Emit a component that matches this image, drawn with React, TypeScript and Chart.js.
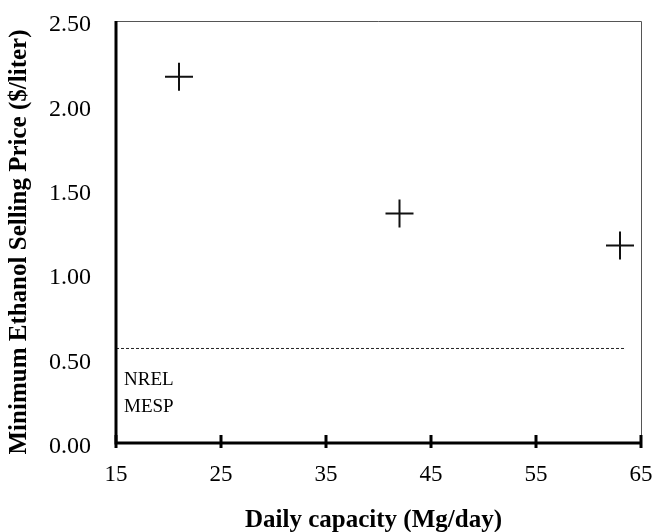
import React, { useEffect, useRef } from "react";
import { Chart, registerables } from "chart.js";

Chart.register(...registerables);

const capacities = [21, 42, 63];
const mespValues = [2.17, 1.36, 1.17];
const nrelX = [15, 63.5];
const nrelY = [0.56, 0.56];
const xTicks = [15, 25, 35, 45, 55, 65];
const yTicks = [0, 0.5, 1.0, 1.5, 2.0, 2.5];
const nrelLabel = ["NREL", "MESP"];
const xTitle = "Daily capacity (Mg/day)";
const yTitle = "Minimum Ethanol Selling Price ($/liter)";

const FONT = "'Liberation Serif', 'Times New Roman', serif";

const framePlugin = {
  id: "frame",
  afterDatasetsDraw(chart: any) {
    const { ctx, chartArea, scales } = chart;
    const { left, right, top, bottom } = chartArea;
    ctx.save();
    ctx.strokeStyle = "#555";
    ctx.lineWidth = 1;
    ctx.beginPath();
    ctx.moveTo(left, top + 0.5);
    ctx.lineTo(right + 0.5, top + 0.5);
    ctx.lineTo(right + 0.5, bottom);
    ctx.stroke();
    ctx.strokeStyle = "#000";
    ctx.lineWidth = 3;
    ctx.beginPath();
    ctx.moveTo(left, top);
    ctx.lineTo(left, bottom);
    ctx.lineTo(right + 1, bottom);
    ctx.stroke();
    for (const t of xTicks) {
      const px = Math.round(scales.x.getPixelForValue(t));
      ctx.beginPath();
      ctx.moveTo(px, bottom - 8);
      ctx.lineTo(px, bottom + 5);
      ctx.stroke();
    }
    ctx.fillStyle = "#000";
    ctx.font = `19px ${FONT}`;
    ctx.textAlign = "left";
    ctx.textBaseline = "middle";
    ctx.fillText(nrelLabel[0], left + 8, 380);
    ctx.fillText(nrelLabel[1], left + 8, 407);
    ctx.font = `bold 25px ${FONT}`;
    ctx.textAlign = "center";
    ctx.fillText(xTitle, (left + right) / 2 - 5, 521);
    ctx.save();
    ctx.translate(20, (top + bottom) / 2 + 10);
    ctx.rotate(-Math.PI / 2);
    ctx.fillText(yTitle, 0, 0);
    ctx.restore();
    ctx.restore();
  },
};

export default function App() {
  const ref = useRef<HTMLCanvasElement>(null);
  useEffect(() => {
    const canvas = ref.current!;
    const chart = new Chart(canvas, {
      type: "scatter",
      data: {
        datasets: [
          {
            label: "MESP",
            data: capacities.map((x, i) => ({ x, y: mespValues[i] })),
            pointStyle: "cross",
            pointRadius: 14,
            pointBorderWidth: 2,
            borderColor: "#111",
            backgroundColor: "#111",
            showLine: false,
          },
          {
            label: "NREL MESP",
            data: nrelX.map((x, i) => ({ x, y: nrelY[i] })),
            showLine: true,
            borderColor: "#222",
            borderWidth: 1,
            borderDash: [3, 2],
            pointRadius: 0,
          },
        ],
      },
      options: {
        animation: false,
        responsive: false,
        maintainAspectRatio: false,
        layout: { autoPadding: false, padding: { top: 21, right: 13, left: 0, bottom: 0 } },
        plugins: { legend: { display: false }, tooltip: { enabled: false } },
        scales: {
          x: {
            type: "linear",
            min: 15,
            max: 65,
            afterBuildTicks: (s: any) => {
              s.ticks = xTicks.map((v) => ({ value: v }));
            },
            afterFit: (s: any) => {
              s.height = 89;
              s.paddingLeft = 0;
              s.paddingRight = 0;
            },
            grid: { display: false },
            border: { display: false },
            ticks: {
              color: "#000",
              font: { family: FONT, size: 23 },
              padding: 10,
              maxRotation: 0,
            },
            title: { display: false },
          },
          y: {
            type: "linear",
            min: 0,
            max: 2.5,
            afterBuildTicks: (s: any) => {
              s.ticks = yTicks.map((v) => ({ value: v }));
            },
            afterFit: (s: any) => {
              s.width = 116;
              s.paddingTop = 0;
              s.paddingBottom = 0;
            },
            grid: { display: false },
            border: { display: false },
            ticks: {
              color: "#000",
              font: { family: FONT, size: 24 },
              padding: 17,
              labelOffset: 4,
              callback: (v: any) => Number(v).toFixed(2),
            },
            title: { display: false },
          },
        },
      },
      plugins: [framePlugin],
    });
    return () => chart.destroy();
  }, []);
  return (
    <div style={{ position: "fixed", left: 0, top: 0, width: 654, height: 532, background: "#fff" }}>
      <canvas ref={ref} width={654} height={532} style={{ width: 654, height: 532 }} />
    </div>
  );
}
